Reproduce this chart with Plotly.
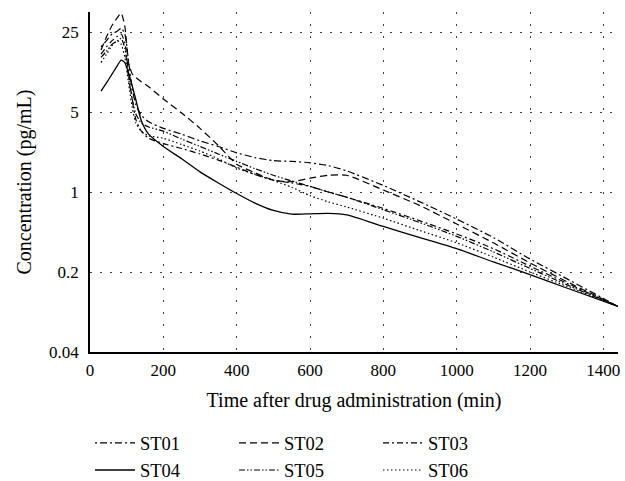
import math
import plotly.graph_objects as go

# Time after drug administration (min)
time = [30, 45, 60, 75, 85, 95, 105, 115, 125, 140, 160, 200, 250, 300, 350, 400,
        450, 500, 550, 600, 650, 700, 800, 900, 1000, 1100, 1200, 1300, 1440]

# Concentration (pg/mL)
st01 = [18.5, 21, 24, 25.5, 27, 24, 14, 8, 5.8, 4.7, 4.1, 3.6, 3.2, 2.8, 2.5, 2.2,
        2.0, 1.88, 1.85, 1.80, 1.70, 1.53, 1.14, 0.82, 0.58, 0.40, 0.26, 0.175, 0.1]
st02 = [17.4, 22.7, 28.5, 33.5, 36.5, 28, 13.5, 10.8, 10, 9.2, 8.3, 6.5, 4.9, 3.6, 2.55, 1.75,
        1.47, 1.27, 1.23, 1.32, 1.40, 1.40, 1.04, 0.76, 0.525, 0.36, 0.24, 0.165, 0.1]
st03 = [16, 18.5, 21, 23, 24, 20, 11, 6.5, 4.3, 3.4, 2.95, 2.65, 2.4, 2.15, 1.9, 1.65,
        1.42, 1.27, 1.2, 1.12, 1.0, 0.9, 0.72, 0.56, 0.43, 0.32, 0.225, 0.16, 0.1]
st04 = [7.6, 9, 10.7, 12.8, 14.2, 13.5, 11, 8.5, 6.4, 4.2, 3.2, 2.5, 1.95, 1.5, 1.2, 0.97,
        0.8, 0.69, 0.64, 0.645, 0.65, 0.63, 0.5, 0.4, 0.32, 0.245, 0.19, 0.145, 0.1]
st05 = [15, 17, 19.5, 21, 22, 18, 10, 6.5, 4.8, 4.0, 3.7, 3.4, 2.9, 2.5, 2.15, 1.85,
        1.6, 1.4, 1.25, 1.12, 1.0, 0.9, 0.70, 0.54, 0.41, 0.30, 0.215, 0.155, 0.1]
st06 = [13.5, 16, 19, 21, 19.5, 15, 9, 5.5, 4.0, 3.4, 3.1, 2.95, 2.6, 2.28, 1.95, 1.62,
        1.43, 1.26, 1.10, 0.93, 0.82, 0.74, 0.59, 0.46, 0.36, 0.27, 0.2, 0.15, 0.1]

series_names = ["ST01", "ST02", "ST03", "ST04", "ST05", "ST06"]
series_values = [st01, st02, st03, st04, st05, st06]

x_ticks = [0, 200, 400, 600, 800, 1000, 1200, 1400]
y_ticks = [0.04, 0.2, 1, 5, 25]
y_tick_labels = ["0.04", "0.2", "1", "5", "25"]

dashes = {
    "ST01": "2px,3px,7px,3px",
    "ST02": "7px,4px",
    "ST03": "6px,3px,2px,3px",
    "ST04": "solid",
    "ST05": "6px,2px,1.5px,2px,1.5px,2px",
    "ST06": "1.5px,2.5px",
}

fig = go.Figure()
for name, vals in zip(series_names, series_values):
    fig.add_trace(go.Scatter(
        x=time, y=vals, name=name, mode="lines",
        line=dict(color="black", width=1.3 if name == "ST04" else 1.2,
                  dash=dashes[name], shape="spline", smoothing=0.6),
    ))

font_family = "Liberation Serif"
fig.update_layout(
    width=625, height=481,
    margin=dict(l=90, r=7, t=12, b=129, autoexpand=False),
    paper_bgcolor="white", plot_bgcolor="white",
    font=dict(family=font_family, size=17, color="black"),
    showlegend=True,
    legend=dict(
        orientation="h", x=0, xanchor="left", y=-0.213, yanchor="top",
        entrywidth=89, itemwidth=40, font=dict(size=18.5),
        tracegroupgap=0, bgcolor="rgba(0,0,0,0)",
    ),
    xaxis=dict(
        range=[0, 1440], tickvals=x_ticks, showline=True, linecolor="black",
        linewidth=1.5, showgrid=True, gridcolor="#444", gridwidth=1,
        griddash="1.5px,10.5px", zeroline=False, ticks="",
        ticklabelstandoff=2, ticklabeloverflow="allow",
        title=dict(text="Time after drug administration (min)", standoff=14,
                   font=dict(size=20)),
    ),
    yaxis=dict(
        type="log", range=[math.log10(0.04), 1.5727],
        tickvals=y_ticks, ticktext=y_tick_labels, showline=True,
        linecolor="black", linewidth=1.5, showgrid=True, gridcolor="#444",
        gridwidth=1, griddash="1.5px,8.5px", zeroline=False, ticks="",
        ticklabelstandoff=6, ticklabeloverflow="allow",
        title=dict(text="Concentration (pg/mL)", standoff=12,
                   font=dict(size=20)),
    ),
)

fig.write_html("out.html", config={"displayModeBar": False},
               post_script="document.body.style.margin='0';")
